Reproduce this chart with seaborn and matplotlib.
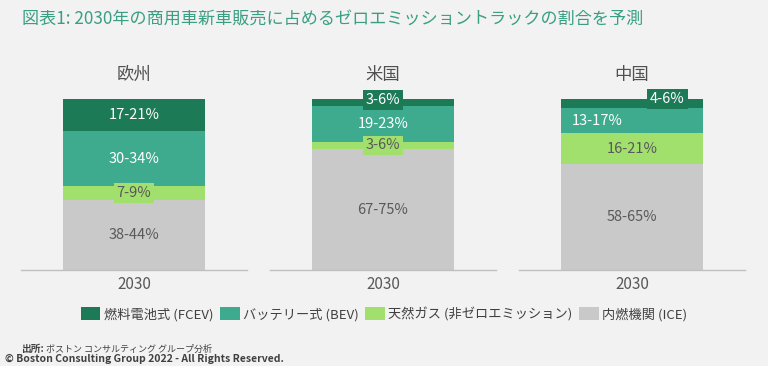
import pandas as pd
import matplotlib.pyplot as plt
from matplotlib.patches import Patch
import seaborn as sns

# 2030 share of new commercial vehicle sales (%)
regions = ["欧州", "米国", "中国"]
year = "2030"
segments = ["燃料電池式 (FCEV)", "バッテリー式 (BEV)", "天然ガス (非ゼロエミッション)", "内燃機関 (ICE)"]
fcev = [19, 3.9, 5.1]
bev = [32, 21, 15]
ngas = [8, 4.5, 18]
ice = [41, 70.6, 61.9]
fcev_labels = ["17-21%", "3-6%", "4-6%"]
bev_labels = ["30-34%", "19-23%", "13-17%"]
ngas_labels = ["7-9%", "3-6%", "16-21%"]
ice_labels = ["38-44%", "67-75%", "58-65%"]

colors = ["#1d7a57", "#3eab8e", "#a2e06e", "#c9c9c9"]
text_colors = ["white", "white", "#595959", "#595959"]
bg = "#f2f2f2"

# long table, stacked bottom-up: ICE, gas, BEV, FCEV
rows = []
for i, r in enumerate(regions):
    stack = [(3, ice[i], ice_labels[i]), (2, ngas[i], ngas_labels[i]),
             (1, bev[i], bev_labels[i]), (0, fcev[i], fcev_labels[i])]
    cum = 0
    for seg, v, lab in stack:
        cum += v
        rows.append({"region": r, "year": year, "seg": seg, "value": v,
                     "cum": cum, "mid": cum - v / 2, "label": lab})
df = pd.DataFrame(rows)

# which labels get a box, and sideways nudges (data units)
boxed = {("欧州", 2), ("米国", 0), ("米国", 2), ("中国", 0)}
nudge = {("中国", 0): 0.157, ("中国", 1): -0.155}
lift = {("米国", 0): 1.5, ("中国", 0): 2.5}

sns.set_theme(style="white", rc={"axes.facecolor": bg, "figure.facecolor": bg})
plt.rcParams["font.family"] = ["Noto Sans CJK JP", "DejaVu Sans"]

fig = plt.figure(figsize=(7.68, 3.66), dpi=100)
lefts = [21 / 768, 270 / 768, 519 / 768]

for i, r in enumerate(regions):
    ax = fig.add_axes([lefts[i], 1 - 270 / 366, 226 / 768, 171 / 366])
    sub = df[df["region"] == r]
    # draw cumulative totals from the top segment down so they stack
    for seg in [0, 1, 2, 3]:
        d = sub[sub["seg"] == seg]
        sns.barplot(data=d, x="year", y="cum", color=colors[seg], saturation=1,
                    width=0.628, linewidth=0, errorbar=None, ax=ax)
    for _, row in sub.iterrows():
        key = (r, row["seg"])
        box = None
        if key in boxed:
            box = dict(boxstyle="square,pad=0.2", fc=colors[row["seg"]], ec="none")
        ax.text(nudge.get(key, 0), row["mid"] + lift.get(key, 0), row["label"],
                ha="center", va="center", fontsize=10.5,
                color=text_colors[row["seg"]], bbox=box)
    ax.set_ylim(0, 100)
    ax.set_xlim(-0.5, 0.5)
    ax.set_xlabel("")
    ax.set_ylabel("")
    ax.set_yticks([])
    ax.tick_params(axis="x", length=0, pad=4, labelsize=11, labelcolor="#595959")
    for s in ["top", "left", "right"]:
        ax.spines[s].set_visible(False)
    ax.spines["bottom"].set_color("#bfbfbf")
    ax.spines["bottom"].set_linewidth(1)
    ax.text(0.5, 1 + 24 / 171, r, transform=ax.transAxes, ha="center",
            va="center", fontsize=12.5, color="#505050")

fig.text(22 / 768, 1 - 20 / 366, "図表1: 2030年の商用車新車販売に占めるゼロエミッショントラックの割合を予測",
         fontsize=12.3, color="#3a9f82", va="center")

handles = [Patch(facecolor=colors[k], edgecolor="none", label=segments[k]) for k in range(4)]
fig.legend(handles=handles, loc="center", bbox_to_anchor=(384 / 768, 1 - 314 / 366),
           ncol=4, frameon=False, fontsize=9.5, handlelength=1.5, handleheight=1.05,
           handletextpad=0.25, columnspacing=0.5, labelcolor="#404040")

fig.text(21 / 768, 1 - 349 / 366, "出所:", fontsize=7, fontweight="bold", color="#404040", va="center")
fig.text(46 / 768, 1 - 349 / 366, "ボストン コンサルティング グループ分析", fontsize=6.5,
         color="#404040", va="center")
fig.text(5 / 768, 1 - 359 / 366, "© Boston Consulting Group 2022 - All Rights Reserved.",
         fontsize=7.5, fontweight="bold", color="#404040", va="center")

fig.savefig("out.png", dpi=100, facecolor=bg)
